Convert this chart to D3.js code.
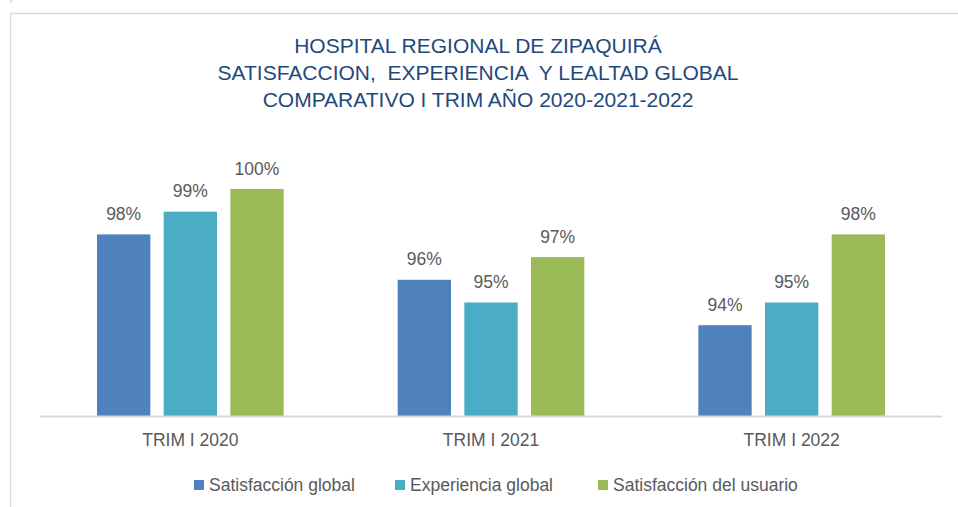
<!DOCTYPE html>
<html><head><meta charset="utf-8">
<script src="https://cdn.jsdelivr.net/npm/d3@7"></script>
<style>body{margin:0;background:#fff;}svg{display:block;}</style>
</head><body>
<svg id="c" width="958" height="507"></svg>
<script>
const categories = ["TRIM I 2020", "TRIM I 2021", "TRIM I 2022"];
const seriesNames = ["Satisfacción global", "Experiencia global", "Satisfacción del usuario"];
const satisfaccionGlobal = [98, 96, 94];
const experienciaGlobal = [99, 95, 95];
const satisfaccionUsuario = [100, 97, 98];
const titleLines = ["HOSPITAL REGIONAL DE ZIPAQUIRÁ", "SATISFACCION,  EXPERIENCIA  Y LEALTAD GLOBAL", "COMPARATIVO I TRIM AÑO 2020-2021-2022"];
const colors = ["#4F81BD", "#4BACC6", "#9BBB59"];

const series = [satisfaccionGlobal, experienciaGlobal, satisfaccionUsuario];
const svg = d3.select("#c");
const font = "'Liberation Sans', Arial, sans-serif";

// outer chart frame
svg.append("path").attr("d", "M10.5,507 L10.5,13.5 L958,13.5").attr("fill", "none").attr("stroke", "#D9D9D9").attr("stroke-width", 1.5);
svg.append("line").attr("x1", 11).attr("x2", 11).attr("y1", 0).attr("y2", 3).attr("stroke", "#BFBFBF");

// title
const t = svg.append("text").attr("text-anchor", "middle").attr("fill", "#1F497D")
  .style("font-family", "'Liberation Sans Narrow', 'Arial Narrow', 'Liberation Sans', sans-serif").style("font-size", "21px");
titleLines.forEach((l, i) => t.append("tspan").attr("x", 478).attr("y", 53 + i * 27).attr("xml:space", "preserve").text(l));

const x0 = d3.scaleBand().domain(categories).range([40, 942]).padding(0);
const x1 = d3.scaleBand().domain(d3.range(3)).range([57, x0.bandwidth() - 57]).paddingInner(0.2);
const y = d3.scaleLinear().domain([90, 100]).range([416, 189]);

const g = svg.append("g");
categories.forEach((c, ci) => {
  series.forEach((s, si) => {
    const bx = x0(c) + x1(si);
    g.append("rect").attr("x", bx).attr("y", y(s[ci])).attr("width", x1.bandwidth())
      .attr("height", y(90) - y(s[ci])).attr("fill", colors[si]);
    g.append("text").attr("x", bx + x1.bandwidth() / 2).attr("y", y(s[ci]) - 14.5)
      .attr("text-anchor", "middle").attr("fill", "#595959")
      .style("font-family", font).style("font-size", "17.5px").text(s[ci] + "%");
  });
});

// x axis
const xAxis = d3.axisBottom(x0).tickSize(0).tickPadding(17);
const ax = svg.append("g").attr("transform", "translate(0,416.5)").call(xAxis);
ax.select(".domain").attr("stroke", "#D9D9D9").attr("stroke-width", 2).attr("d", "M40,0H942");
ax.selectAll("text").attr("fill", "#595959").style("font-family", font).style("font-size", "17.5px");

// legend
const legX = [194, 395, 598];
seriesNames.forEach((n, i) => {
  svg.append("rect").attr("x", legX[i]).attr("y", 480).attr("width", 10).attr("height", 10).attr("fill", colors[i]);
  svg.append("text").attr("x", legX[i] + 15).attr("y", 491).attr("fill", "#595959")
    .style("font-family", font).style("font-size", "17.5px").text(n);
});
</script>
</body></html>
